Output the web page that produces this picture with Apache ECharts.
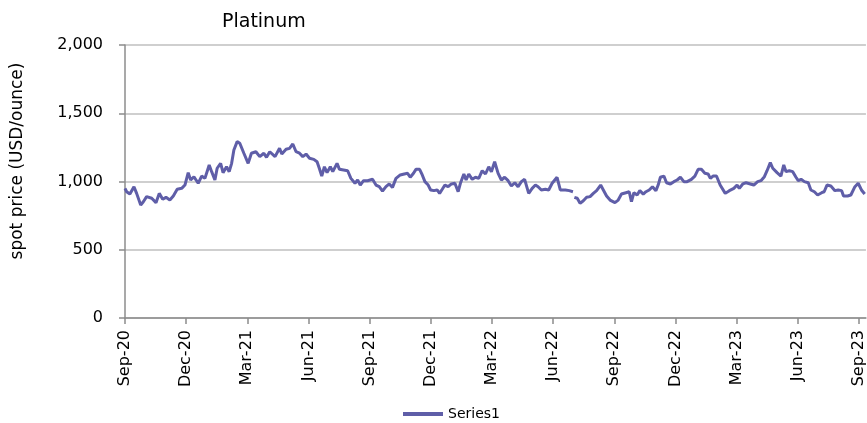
<!DOCTYPE html>
<html>
<head>
<meta charset="utf-8">
<script src="https://cdn.jsdelivr.net/npm/echarts@6/dist/echarts.min.js"></script>
<style>
  html, body { margin: 0; padding: 0; background: #fff; }
  #chart { width: 867px; height: 423px; }
</style>
</head>
<body>
<div id="chart"></div>
<script>
// 月份偏移（从 2020年9月 起算）
var months = [
    0.00, 0.08, 0.24, 0.44, 0.57, 0.77, 0.90, 1.06, 1.31, 1.52, 1.68, 1.85, 2.01, 2.20, 2.37, 2.56, 2.78, 2.94,
    3.10, 3.22, 3.38, 3.59, 3.76, 3.92, 4.13, 4.25, 4.41, 4.52, 4.69, 4.81, 4.98, 5.11, 5.23, 5.34, 5.50, 5.63,
    5.83, 6.04, 6.20, 6.42, 6.61, 6.81, 6.94, 7.10, 7.36, 7.58, 7.69, 7.90, 8.07, 8.23, 8.39, 8.56, 8.72, 8.88,
    9.05, 9.26, 9.42, 9.53, 9.65, 9.78, 9.91, 10.07, 10.19, 10.40, 10.52, 10.72, 10.92, 11.08, 11.28, 11.41,
    11.54, 11.70, 11.90, 12.14, 12.31, 12.47, 12.63, 12.80, 12.96, 13.12, 13.29, 13.50, 13.70, 13.86, 13.99,
    14.15, 14.27, 14.45, 14.58, 14.71, 14.87, 14.99, 15.15, 15.31, 15.43, 15.56, 15.69, 15.85, 16.01, 16.18,
    16.34, 16.45, 16.62, 16.73, 16.86, 17.03, 17.19, 17.35, 17.52, 17.68, 17.84, 17.97, 18.13, 18.20, 18.30,
    18.46, 18.62, 18.79, 18.95, 19.12, 19.28, 19.44, 19.60, 19.80, 19.97, 20.13, 20.26, 20.42, 20.62, 20.78,
    20.95, 21.19, 21.35, 21.60, 21.66, 21.79, 21.97, 22.00, 22.04, 22.18, 22.32, 22.48, 22.64, 22.81, 22.97,
    23.13, 23.33, 23.46, 23.62, 23.79, 24.03, 24.19, 24.35, 24.57, 24.73, 24.84, 24.96, 25.12, 25.25, 25.42,
    25.55, 25.71, 25.87, 26.04, 26.15, 26.26, 26.43, 26.56, 26.75, 26.92, 27.08, 27.24, 27.41, 27.57, 27.78,
    27.95, 28.11, 28.27, 28.44, 28.60, 28.71, 28.84, 29.01, 29.19, 29.44, 29.64, 29.86, 30.02, 30.13, 30.30,
    30.46, 30.67, 30.84, 31.03, 31.19, 31.36, 31.49, 31.65, 31.77, 31.98, 32.17, 32.31, 32.42, 32.58, 32.75,
    32.91, 33.02, 33.16, 33.32, 33.51, 33.64, 33.81, 33.97, 34.17, 34.29, 34.43, 34.62, 34.82, 34.98, 35.15,
    35.24, 35.44, 35.60, 35.80, 35.96, 36.12, 36.28
];

// 铂金现货价格 USD/盎司 (null = 缺数据)
var prices = [
    950, 925, 908, 962, 913, 828, 852, 889, 877, 845, 913, 870, 884, 864, 894, 943, 950, 974,
    1065, 1011, 1035, 987, 1040, 1023, 1121, 1072, 1011, 1097, 1133, 1065, 1108, 1072, 1133, 1231, 1292, 1280,
    1207, 1133, 1207, 1218, 1182, 1207, 1177, 1218, 1182, 1243, 1201, 1236, 1243, 1275, 1218, 1207, 1182, 1201,
    1170, 1162, 1145, 1097, 1040, 1108, 1065, 1108, 1072, 1133, 1089, 1084, 1079, 1023, 987, 1011,
    974, 1006, 1006, 1016, 974, 962, 930, 962, 982, 957, 1023, 1048, 1055, 1060, 1031,
    1060, 1089, 1089, 1048, 999, 974, 938, 933, 938, 913, 943, 974, 962, 982, 987,
    925, 987, 1055, 1011, 1055, 1016, 1031, 1023, 1079, 1055, 1108, 1072, 1145, 1152, 1060,
    1011, 1031, 1006, 967, 991, 962, 999, 1016, 913, 950, 974, 962, 938, 943, 938,
    987, 1031, 938, 938, 925, 933, 925, null, 884, 877, 840, 859, 884, 889, 913,
    933, 974, 938, 894, 864, 845, 864, 908, 918, 925, 852, 918, 901, 933, 908,
    925, 938, 962, 933, 974, 1031, 1040, 991, 982, 999, 1011, 1031, 999, 999, 1016,
    1040, 1089, 1089, 1060, 1055, 1023, 1040, 1040, 974, 913, 933, 950, 974, 950, 982,
    991, 982, 974, 999, 1006, 1035, 1079, 1138, 1097, 1065, 1040, 1121, 1072, 1079, 1072,
    1031, 1006, 1016, 999, 991, 938, 925, 901, 918, 925, 974, 967, 933, 938, 933,
    894, 894, 901, 962, 987, 938, 908
];

// 刻度标签
var tickMonths = [0, 3, 6, 9, 12, 15, 18, 21, 24, 27, 30, 33, 36];
var tickLabels = ['Sep-20', 'Dec-20', 'Mar-21', 'Jun-21', 'Sep-21', 'Dec-21', 'Mar-22',
    'Jun-22', 'Sep-22', 'Dec-22', 'Mar-23', 'Jun-23', 'Sep-23'];

var seriesData = months.map(function (m, i) {
    return [m, prices[i]];
});

var font = '"DejaVu Sans", sans-serif';
var lineColor = '#5f5ea8';

var option = {
    animation: false,
    title: {
        text: 'Platinum',
        left: 217,
        top: 8,
        textStyle: { fontFamily: font, fontSize: 19, fontWeight: 'normal', color: '#000' }
    },
    legend: {
        data: [{ name: 'Series1', icon: 'rect' }],
        left: 403,
        top: 407,
        padding: 0,
        itemWidth: 40,
        itemHeight: 4,
        textStyle: { fontFamily: font, fontSize: 14, color: '#000' }
    },
    grid: {
        left: 125,
        right: 0,
        top: 45,
        bottom: 105
    },
    graphic: [
        {
            type: 'text',
            x: 9,
            y: 161,
            rotation: Math.PI / 2,
            style: {
                text: 'spot price (USD/ounce)',
                fontFamily: font,
                fontSize: 17,
                fill: '#000',
                align: 'center',
                verticalAlign: 'top'
            }
        }
    ],
    xAxis: {
        type: 'value',
        min: 0,
        max: 36.34,
        interval: 3,
        axisLine: { lineStyle: { color: '#8c8c8c', width: 1.5 } },
        axisTick: { show: true, length: 6, customValues: tickMonths, lineStyle: { color: '#8c8c8c', width: 1.5 } },
        splitLine: { show: false },
        axisLabel: {
            customValues: tickMonths,
            rotate: 90,
            margin: 12,
            fontFamily: font,
            fontSize: 16,
            color: '#000',
            formatter: function (v) {
                var idx = tickMonths.indexOf(Math.round(v));
                return idx >= 0 ? tickLabels[idx] : '';
            }
        }
    },
    yAxis: {
        type: 'value',
        min: 0,
        max: 2000,
        interval: 500,
        axisLine: { show: true, lineStyle: { color: '#8c8c8c', width: 1.5 } },
        axisTick: { show: true, length: 6, lineStyle: { color: '#8c8c8c', width: 1.5 } },
        splitLine: { show: true, lineStyle: { color: '#bfbfbf', width: 1.5 } },
        axisLabel: {
            margin: 22,
            fontFamily: font,
            fontSize: 16,
            color: '#000',
            formatter: function (v) { return v.toLocaleString('en-US'); }
        }
    },
    series: [
        {
            name: 'Series1',
            type: 'line',
            data: seriesData,
            symbol: 'none',
            connectNulls: false,
            lineStyle: { color: lineColor, width: 3 },
            itemStyle: { color: lineColor }
        }
    ]
};

var myChart = echarts.init(document.getElementById('chart'));
myChart.setOption(option);
</script>
</body>
</html>
